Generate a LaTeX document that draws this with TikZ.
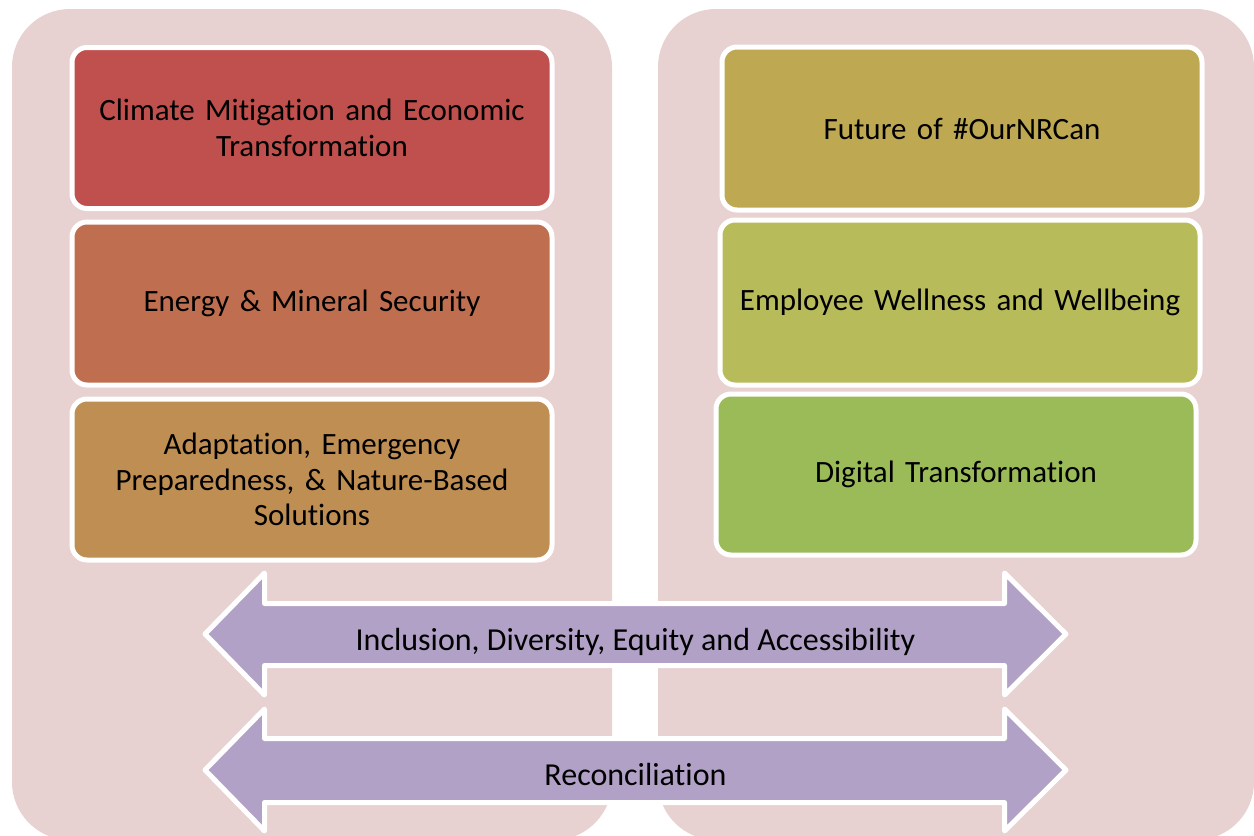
\documentclass[tikz,border=0pt]{standalone}
\usepackage{fontspec}
\setmainfont{Carlito}[RawFeature={-liga;-calt;-clig;-dlig}]
\usepackage{tikz}

\definecolor{panelpink}{HTML}{E8D1D1}
\definecolor{topicA}{HTML}{C0504D}
\definecolor{topicB}{HTML}{BF6F4F}
\definecolor{topicC}{HTML}{BE8E52}
\definecolor{topicD}{HTML}{BEA852}
\definecolor{topicE}{HTML}{B8BB5A}
\definecolor{topicF}{HTML}{9BBB59}
\definecolor{arrowlilac}{HTML}{B2A1C7}

\begin{document}
\begin{tikzpicture}[x=1pt,y=-1pt,
                    panel/.style={fill=panelpink, rounded corners=58pt},
                    topic node/.style={rectangle, draw=white, line width=5pt,
                      rounded corners=15pt, minimum width=480pt, text width=470pt,
                      align=center, inner sep=0pt,
                      font=\fontsize{31}{35.5}\selectfont},
                    band/.style={fill=arrowlilac, draw=white, line width=5pt, line join=round},
                    band text/.style={anchor=base, font=\fontsize{32}{36}\selectfont}]

  \useasboundingbox (0,0) rectangle (1254,836);
  \clip (0,0) rectangle (1254,836);

  %Panels%
  \fill[panel] (12,9) rectangle (612,840);
  \fill[panel] (658,9) rectangle (1254,840);

  %Left column%
  \node[topic node, fill=topicA, minimum height=161pt] (climate) at (312,128)
    {Climate Mitigation and Economic\\Transformation};
  \node[topic node, fill=topicB, minimum height=163pt] (energy) at (312,303.5)
    {Energy \& Mineral Security};
  \node[topic node, fill=topicC, minimum height=161pt] (adapt) at (312,479.5)
    {Adaptation, Emergency\\Preparedness, \& Nature-Based\\Solutions};

  %Right column%
  \node[topic node, fill=topicD, minimum height=163pt] (future) at (962,128.5)
    {Future of \#OurNRCan};
  \node[topic node, fill=topicE, minimum height=165pt] (wellness) at (960,302.5)
    {Employee Wellness and Wellbeing};
  \node[topic node, fill=topicF, minimum height=161pt] (digital) at (956,474.5)
    {Digital Transformation};

  %Arrows%
  \draw[band] (205,634) -- (264.5,573) -- (264.5,603.5) -- (1004.5,603.5)
    -- (1004.5,573) -- (1066,634) -- (1004.5,695) -- (1004.5,665.5)
    -- (264.5,665.5) -- (264.5,695) -- cycle;
  \node[band text] (idea) at (635.5,650) {Inclusion, Diversity, Equity and Accessibility};

  \draw[band] (205,770) -- (264.5,709) -- (264.5,738.5) -- (1004.5,738.5)
    -- (1004.5,709) -- (1066,770) -- (1004.5,831) -- (1004.5,802.5)
    -- (264.5,802.5) -- (264.5,831) -- cycle;
  \node[band text] (recon) at (635.5,785) {Reconciliation};
\end{tikzpicture}
\end{document}
